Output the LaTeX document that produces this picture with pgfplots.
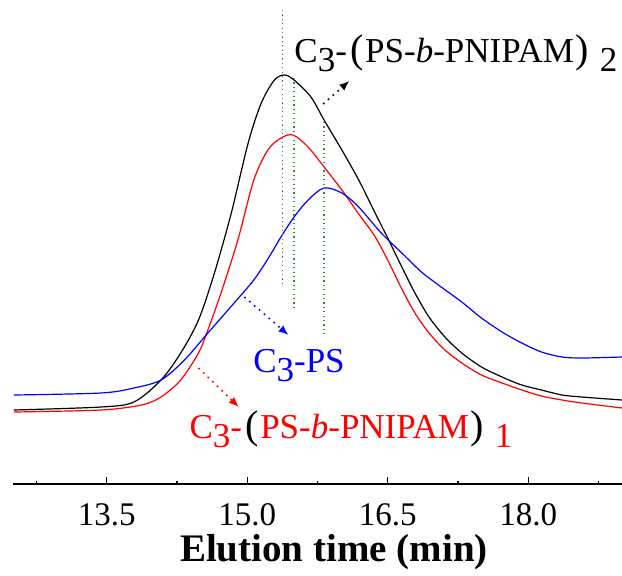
\documentclass[border=0pt]{standalone}
\usepackage{fontspec}
\setmainfont{Liberation Serif}
\usepackage{pgfplots}
\pgfplotsset{compat=1.18}
\usetikzlibrary{arrows.meta}
\definecolor{GelGreen}{HTML}{3C8C3C}
\definecolor{GelRed}{HTML}{FF0000}
\definecolor{GelBlue}{HTML}{0000FF}
\newcommand{\low}[1]{\raisebox{-0.28em}{#1}}
\newcommand{\lp}{\hspace{0.1em}{\fontsize{20}{20}\selectfont(}\hspace{0.04em}}
\newcommand{\rp}{\hspace{0.04em}{\fontsize{20}{20}\selectfont)}\hspace{0.32em}}

\begin{document}
\begin{tikzpicture}
\begin{axis}[
  scale only axis,
  width=304.5pt, height=242pt,
  xmin=12.5, xmax=19.0,
  ymin=0, ymax=484,
  axis x line=bottom,
  axis y line=none,
  x axis line style={-, line width=0.65pt},
  xtick={13.5,15,16.5,18},
  minor xtick={12.75,14.25,15.75,17.25,18.75},
  ytick=\empty,
  tick align=inside,
  major tick length=3.5pt,
  minor tick length=1.7pt,
  every tick/.style={black, line width=0.6pt},
  xticklabel style={font=\fontsize{16.5}{19}\selectfont, anchor=base, inner sep=0pt, yshift=-20.5pt},
  /pgf/number format/.cd, fixed, fixed zerofill, precision=1, assume math mode=true,
  /pgfplots/.cd,
  xlabel={Elution time (min)},
  xlabel style={font=\fontsize{19.5}{23}\selectfont\bfseries, inner sep=0pt, at={(axis description cs:0.527,0)}, anchor=base, yshift=-38.5pt},
  every axis plot/.append style={line width=0.6pt, mark=none},
]
% C3-(PS-b-PNIPAM)2
\addplot[black, smooth] coordinates {
  (12.51,74) (13.44,77) (13.79,82) (14.08,104) (14.29,131) (14.48,164)
  (14.65,211) (14.83,271) (15.01,341) (15.15,381) (15.29,404) (15.40,409)
  (15.50,404) (15.68,387) (15.82,364) (16.01,334) (16.19,304) (16.36,272)
  (16.51,244) (16.65,217) (16.79,191) (16.94,167) (17.11,147) (17.29,131)
  (17.50,117) (17.72,107) (17.93,99) (18.14,94) (18.36,89) (18.57,87) (19.00,84)};
% C3-(PS-b-PNIPAM)1
\addplot[GelRed, smooth] coordinates {
  (12.51,72) (13.44,74) (13.87,79) (14.08,87) (14.29,104) (14.48,131)
  (14.58,154) (14.72,191) (14.90,244) (15.07,304) (15.22,334) (15.36,346)
  (15.49,349) (15.65,337) (15.82,317) (16.01,294) (16.19,270) (16.36,248)
  (16.51,222) (16.65,195) (16.79,171) (16.94,151) (17.11,134) (17.29,121)
  (17.50,109) (17.72,101) (17.93,94) (18.14,88) (18.36,84) (18.57,81) (19.00,76)};
% C3-PS
\addplot[GelBlue, smooth] coordinates {
  (12.51,89) (13.44,91) (13.79,96) (14.08,104) (14.33,124) (14.58,151)
  (14.86,181) (15.07,204) (15.22,225) (15.36,247) (15.50,267) (15.65,284)
  (15.82,296) (16.01,291) (16.19,277) (16.43,251) (16.65,231) (16.86,212)
  (17.07,197) (17.29,182) (17.50,166) (17.72,152) (17.93,141) (18.14,132)
  (18.36,127) (18.57,126) (19.00,127)};
% peak markers
\addplot[GelGreen, dash pattern=on 0.6pt off 1.6pt] coordinates {(15.38,474) (15.38,199)};
\addplot[GelGreen, dash pattern=on 0.6pt off 1.6pt] coordinates {(15.50,406) (15.50,174)};
\addplot[GelGreen, dash pattern=on 0.6pt off 1.6pt] coordinates {(15.82,362) (15.82,149)};
% arrows
\draw[black, line width=0.8pt, dash pattern=on 0.8pt off 2.4pt, -{Latex[length=5pt,width=4pt]}]
  (axis cs:15.81,380) -- (axis cs:16.09,403);
\draw[GelBlue, line width=0.8pt, dash pattern=on 0.8pt off 2.4pt, -{Latex[length=5pt,width=4pt]}]
  (axis cs:14.97,187) -- (axis cs:15.44,149);
\draw[GelRed, line width=0.8pt, dash pattern=on 0.8pt off 2.4pt, -{Latex[length=5pt,width=4pt]}]
  (axis cs:14.48,116) -- (axis cs:14.91,77);
% labels
\node[anchor=base west, inner sep=0pt, font=\fontsize{17.5}{20}\selectfont, black]
  at (axis cs:15.50,422) {C\low{3}-\lp PS-\textit{b}-PNIPAM\rp\low{2}};
\node[anchor=base west, inner sep=0pt, font=\fontsize{17.5}{20}\selectfont, GelBlue]
  at (axis cs:15.06,112) {C\low{3}-PS};
\node[anchor=base west, inner sep=0pt, font=\fontsize{17.5}{20}\selectfont, GelRed]
  at (axis cs:14.38,46) {C\low{3}-{\color{black}\lp}PS-\textit{b}-PNIPAM{\color{black}\rp}\low{1}};
\end{axis}
\pgfresetboundingbox
\path (current axis.south west) ++(-6.5pt,-45.5pt) rectangle ++(311pt,287.5pt);
\end{tikzpicture}
\end{document}
